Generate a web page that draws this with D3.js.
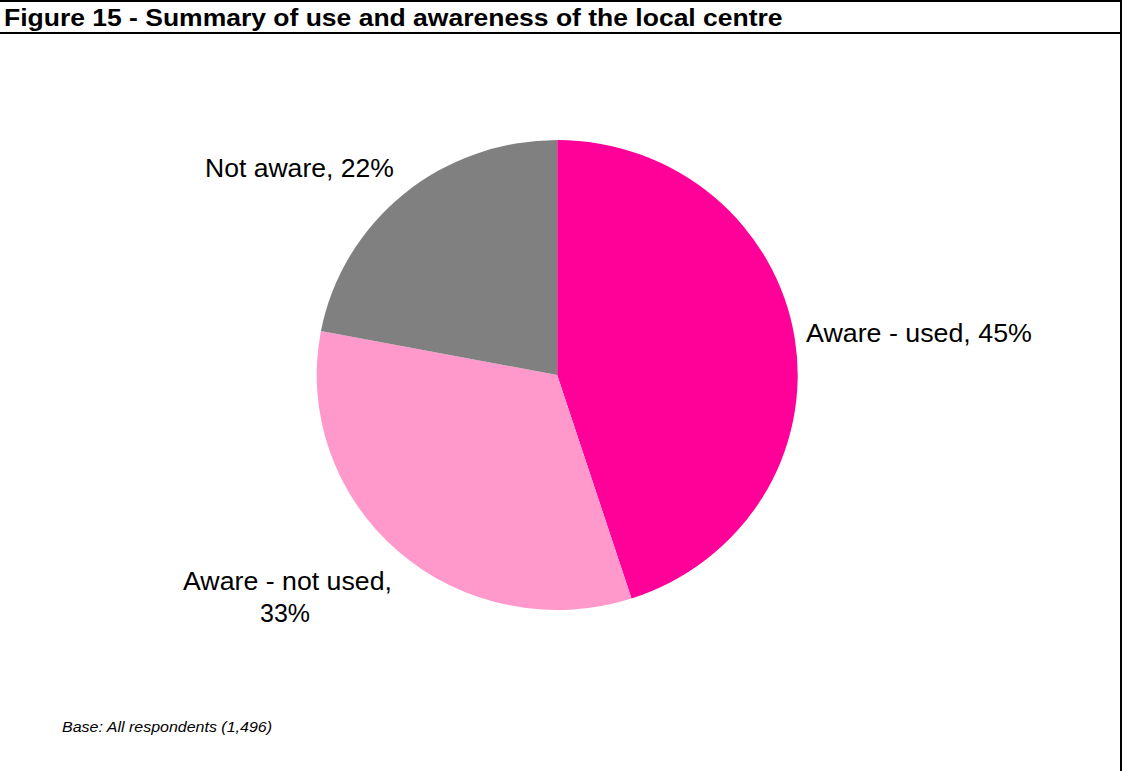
<!DOCTYPE html>
<html>
<head>
<meta charset="utf-8">
<script src="https://cdn.jsdelivr.net/npm/d3@7"></script>
<style>
  html, body { margin: 0; padding: 0; background: #fff; }
  svg { display: block; font-family: Arial, "Liberation Sans", sans-serif; }
</style>
</head>
<body>
<div id="chart"></div>
<script>
(function () {

const [WIDTH, HEIGHT] = [1125, 771];

// data
const categories = ['Aware - used', 'Aware - not used', 'Not aware'];
const shares = [45, 33, 22];
const colours = ['#ff0099', '#ff99cc', '#808080'];

const title = 'Figure 15 - Summary of use and awareness of the local centre';
const baseNote = 'Base: All respondents (1,496)';

const CX = 557.2, CY = 375;
const RX = 240.5, RY = 235;

const svg = d3.select('#chart').append('svg')
    .attr('width', WIDTH)
    .attr('height', HEIGHT)
    .attr('viewBox', `0 0 ${WIDTH} ${HEIGHT}`);

// text that is stretched sideways to the width it has in the original
function stretchedText(x, y, str, opts) {
    const g = svg.append('g')
        .attr('transform', `translate(${x},${y})`);
    const t = g.append('text')
        .attr('x', 0).attr('y', 0)
        .attr('text-anchor', opts.anchor || 'start')
        .attr('font-size', opts.size)
        .attr('font-weight', opts.weight || 'normal')
        .attr('font-style', opts.style || 'normal')
        .attr('fill', 'black')
        .text(str);
    const w = t.node().getComputedTextLength();
    if (opts.width && w > 0) {
        t.attr('transform', `scale(${opts.width / w},1)`);
    }
    return t;
}

// frame: top rule, title rule, right edge
svg.append('line')
    .attr('x1', 0).attr('x2', 1122).attr('y1', 1).attr('y2', 1)
    .attr('stroke', 'black').attr('stroke-width', 2);
svg.append('line')
    .attr('x1', 0).attr('x2', 1122).attr('y1', 33).attr('y2', 33)
    .attr('stroke', 'black').attr('stroke-width', 2);
svg.append('line')
    .attr('x1', 1121).attr('x2', 1121).attr('y1', 0).attr('y2', HEIGHT)
    .attr('stroke', 'black').attr('stroke-width', 2);

stretchedText(4, 25.5, title, { size: 23, weight: 'bold', width: 779 });

const data = categories.map((c, i) => ({ name: c, value: shares[i], colour: colours[i] }));

const pie = d3.pie().sort(null).value((d) => d.value);
const arc = d3.arc().innerRadius(0).outerRadius(RX);

const g = svg.append('g')
    .attr('transform', `translate(${CX},${CY}) scale(1,${RY / RX})`);

g.selectAll('path')
    .data(pie(data))
    .join('path')
    .attr('d', arc)
    .attr('fill', (d) => d.data.colour);

// labels
stretchedText(806, 342, `${categories[0]}, ${shares[0]}%`,
    { size: 26, width: 226 });
stretchedText(287.5, 590, `${categories[1]},`,
    { size: 26, anchor: 'middle', width: 209 });
stretchedText(285, 621.5, `${shares[1]}%`,
    { size: 26, anchor: 'middle', width: 50 });
stretchedText(205, 177, `${categories[2]}, ${shares[2]}%`,
    { size: 26, width: 189 });

stretchedText(62, 731.5, baseNote, { size: 15, style: 'italic', width: 210 });

})();
</script>
</body>
</html>
